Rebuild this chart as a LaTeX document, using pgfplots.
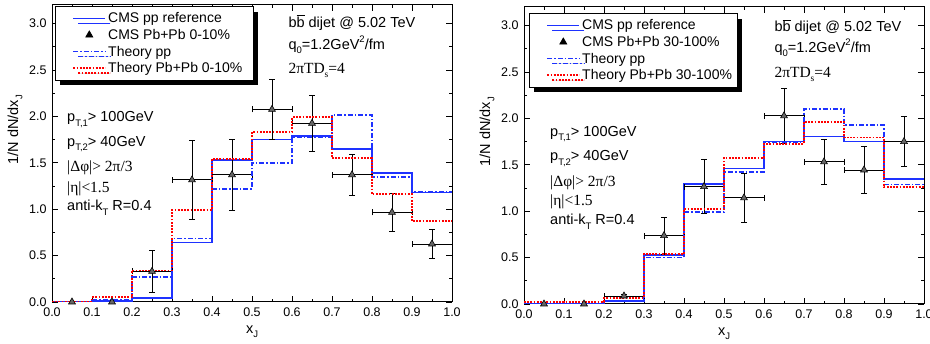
\documentclass[border=0pt]{standalone}
\usepackage{fontspec}
\setmainfont{Liberation Sans}
\newfontfamily\serif{Liberation Serif}
\usepackage{pgfplots}
\pgfplotsset{compat=1.18}
\usetikzlibrary{shadows}
\definecolor{lblue}{RGB}{30,50,255}
\newcommand{\sub}[1]{\raisebox{-0.55ex}{\fontsize{9.5}{9.5}\selectfont #1}}
\newcommand{\sups}[1]{\raisebox{0.95ex}{\fontsize{9.5}{9.5}\selectfont #1}}
\newcommand{\ann}{\fontsize{14.5}{16}\selectfont}
\newcommand{\anns}{\fontsize{15.5}{17}\selectfont\serif}
\makeatletter
\newcommand{\legpad}{\pgf@protocolsizes{0pt}{0pt}}
\makeatother
\pgfplotsset{
  panel/.style={
    width=400pt, height=297pt, scale only axis,
    xmin=0, xmax=1, ymin=0, ymax=3.2,
    xtick={0,0.1,0.2,0.3,0.4,0.5,0.6,0.7,0.8,0.9,1.0},
    ytick={0,0.5,1.0,1.5,2.0,2.5,3.0},
    minor x tick num=1, minor y tick num=1,
    tick align=inside,
    major tick length=6pt, minor tick length=3pt,
    every tick/.style={black, line width=0.8pt},
    axis line style={line width=1pt},
    /pgf/number format/assume math mode=true,
    xticklabel style={/pgf/number format/fixed, /pgf/number format/fixed zerofill, /pgf/number format/precision=1, yshift=-2pt},
    yticklabel style={/pgf/number format/fixed, /pgf/number format/fixed zerofill, /pgf/number format/precision=1, xshift=-2pt},
    ticklabel style={font=\fontsize{12.5}{14}\selectfont},
    xlabel={x\sub{J}},
    ylabel={1/N dN/dx\sub{J}},
    every axis x label/.style={at={(rel axis cs:0.5,0)}, anchor=north, yshift=-20pt, font=\fontsize{14.5}{16}\selectfont},
    every axis y label/.style={at={([xshift=-37pt]rel axis cs:0,0.58)}, rotate=90, anchor=center, font=\fontsize{14.5}{16}\selectfont},
    legend style={anchor=north west, draw=black, line width=0.8pt, fill=white,
      font=\fontsize{14}{16}\selectfont, cells={anchor=west},
      drop shadow={shadow xshift=5pt, shadow yshift=-5pt, fill=black, opacity=1},
      inner xsep=3pt, inner ysep=4pt, row sep=1pt},
    legend image code/.code={\legpad\draw[#1] (14pt,0pt) -- (46pt,0pt);},
  },
  ppref/.style={const plot, lblue, line width=1.6pt, mark=none},
  thpp/.style={const plot, lblue, line width=1.5pt, mark=none, dash pattern=on 5pt off 2pt on 1.5pt off 2pt},
  thaa/.style={const plot, red, line width=1.8pt, mark=none, dash pattern=on 1.8pt off 1.4pt},
  cms/.style={only marks, mark=triangle*, mark size=4pt, mark options={fill=black!60, draw=black, line width=0.6pt, solid},
    legend image code/.code={\legpad\draw[#1, draw=none, mark repeat=2, mark phase=2, mark options={fill=black, draw=black}] plot coordinates {(14pt,0pt) (30pt,0pt) (46pt,0pt)};},
    error bars/.cd, x dir=both, x explicit, y dir=both, y explicit,
    error bar style={black, line width=0.9pt},
    error mark options={rotate=90, black, mark size=3pt, line width=0.9pt}},
}
\begin{document}
\begin{tikzpicture}
\path[use as bounding box] (0pt,0pt) rectangle (930pt,-344pt);
% ---------- left panel ----------
\begin{axis}[panel, at={(52pt,-302pt)}, anchor=south west,
  legend style={at={(rel axis cs:0.0075,0.996)}}]
\addplot[ppref] coordinates {(0,0) (0.1,0.01) (0.2,0.04) (0.3,0.64) (0.4,1.53) (0.5,1.75) (0.6,1.79) (0.7,1.65) (0.8,1.39) (0.9,1.18) (1.0,1.18)};
\addlegendentry{CMS pp reference}
\addplot[cms] table[x=x, y=y, x error=ex, y error=ey] {
x y ex ey
0.05 0.0 0 0
0.15 0.0 0 0
0.25 0.33 0.05 0.225
0.35 1.315 0.05 0.43
0.45 1.37 0.05 0.38
0.55 2.075 0.05 0.32
0.65 1.925 0.05 0.30
0.75 1.37 0.05 0.22
0.85 0.965 0.05 0.205
0.95 0.625 0.05 0.16
};
\addlegendentry{CMS Pb+Pb 0-10\%}
\addplot[thpp] coordinates {(0,0) (0.1,0.02) (0.2,0.27) (0.3,0.685) (0.4,1.22) (0.5,1.50) (0.6,1.775) (0.7,2.015) (0.8,1.345) (0.9,1.185) (1.0,1.185)};
\addlegendentry{Theory pp}
\addplot[thaa] coordinates {(0,0) (0.1,0.05) (0.2,0.34) (0.3,0.99) (0.4,1.54) (0.5,1.83) (0.6,1.99) (0.7,1.55) (0.8,1.16) (0.9,0.87) (1.0,0.87)};
\addlegendentry{Theory Pb+Pb 0-10\%\hspace*{6pt}}
\end{axis}
% ---------- right panel ----------
\begin{axis}[panel, at={(524pt,-304pt)}, anchor=south west,
  legend style={at={(rel axis cs:0.0125,0.979)}}]
\addplot[ppref] coordinates {(0,0) (0.1,0) (0.2,0.03) (0.3,0.53) (0.4,1.29) (0.5,1.46) (0.6,1.75) (0.7,1.805) (0.8,1.75) (0.9,1.35) (1.0,1.35)};
\addlegendentry{CMS pp reference}
\addplot[cms] table[x=x, y=y, x error=ex, y error=ey] {
x y ex ey
0.05 0.0 0 0
0.15 0.0 0 0
0.25 0.086 0.05 0.02
0.35 0.737 0.05 0.20
0.45 1.265 0.05 0.29
0.55 1.143 0.05 0.265
0.65 2.027 0.05 0.30
0.75 1.531 0.05 0.24
0.85 1.444 0.05 0.25
0.95 1.75 0.05 0.27
};
\addlegendentry{CMS Pb+Pb 30-100\%}
\addplot[thpp] coordinates {(0,0) (0.1,0) (0.2,0.04) (0.3,0.50) (0.4,0.99) (0.5,1.42) (0.6,1.745) (0.7,2.10) (0.8,1.93) (0.9,1.29) (1.0,1.29)};
\addlegendentry{Theory pp}
\addplot[thaa] coordinates {(0,0.025) (0.1,0.025) (0.2,0.068) (0.3,0.54) (0.4,1.02) (0.5,1.577) (0.6,1.725) (0.7,1.962) (0.8,1.793) (0.9,1.258) (1.0,1.258)};
\addlegendentry{Theory Pb+Pb 30-100\%}
\end{axis}
% ---------- annotations ----------
\node[anchor=base west, inner sep=0pt] at (67pt,-122pt) {\ann p\sub{T,1}> 100GeV};
\node[anchor=base west, inner sep=0pt] at (67pt,-146.7pt) {\ann p\sub{T,2}> 40GeV};
\node[anchor=base west, inner sep=0pt] at (67pt,-171.7pt) {\anns |Δφ|> 2π/3};
\node[anchor=base west, inner sep=0pt] at (67pt,-192.3pt) {\anns |η|<1.5};
\node[anchor=base west, inner sep=0pt] at (67pt,-211pt) {\ann anti-k\sub{T} R=0.4};
\node[anchor=base west, inner sep=0pt] at (288.3pt,-27.3pt) {\ann b$\overline{\mbox{\ann b}}$ dijet @ 5.02 TeV};
\node[anchor=base west, inner sep=0pt] at (288.3pt,-49.3pt) {\ann q\sub{0}=1.2GeV\sups{2}/fm};
\node[anchor=base west, inner sep=0pt] at (288.3pt,-74pt) {\anns 2πTD\sub{s}=4};
%
\node[anchor=base west, inner sep=0pt] at (550pt,-136.7pt) {\ann p\sub{T,1}> 100GeV};
\node[anchor=base west, inner sep=0pt] at (550pt,-161pt) {\ann p\sub{T,2}> 40GeV};
\node[anchor=base west, inner sep=0pt] at (550pt,-186.7pt) {\anns |Δφ|> 2π/3};
\node[anchor=base west, inner sep=0pt] at (550pt,-206pt) {\anns |η|<1.5};
\node[anchor=base west, inner sep=0pt] at (550pt,-225pt) {\ann anti-k\sub{T} R=0.4};
\node[anchor=base west, inner sep=0pt] at (774.3pt,-31.7pt) {\ann b$\overline{\mbox{\ann b}}$ dijet @ 5.02 TeV};
\node[anchor=base west, inner sep=0pt] at (774.3pt,-52.7pt) {\ann q\sub{0}=1.2GeV\sups{2}/fm};
\node[anchor=base west, inner sep=0pt] at (774.3pt,-77.3pt) {\anns 2πTD\sub{s}=4};
\end{tikzpicture}
\end{document}
